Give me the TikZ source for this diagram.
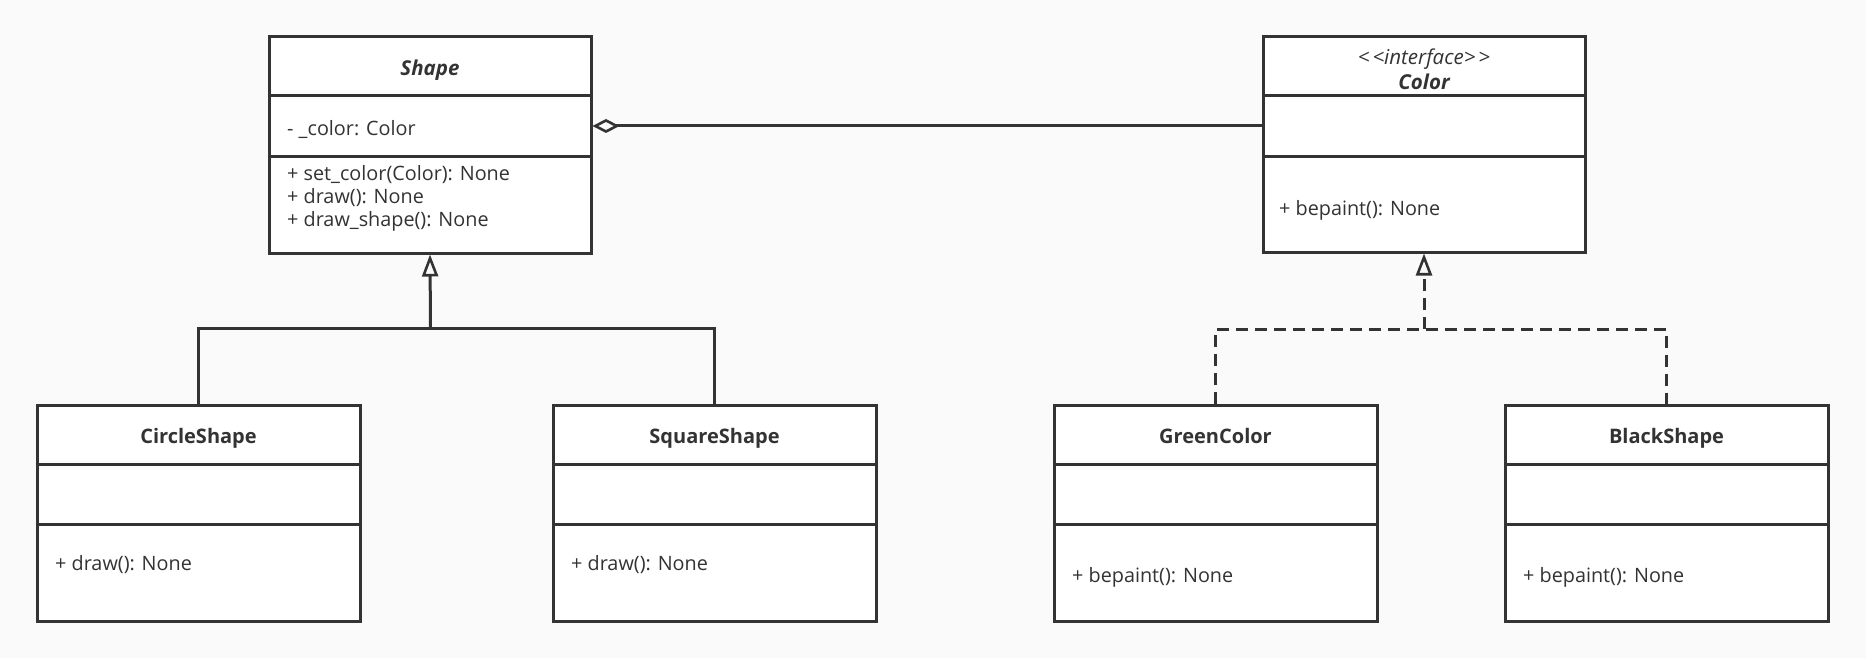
\documentclass[tikz,border=0pt]{standalone}
\usepackage{fontspec}
\setmainfont{Open Sans}
\usetikzlibrary{arrows.meta}
\definecolor{ln}{HTML}{333333}
\definecolor{bg}{HTML}{FAFAFA}
\begin{document}
\begin{tikzpicture}[x=1pt,y=-1pt,
  box/.style={draw=ln,line width=3pt,fill=white,rectangle,inner sep=0pt,minimum width=322pt,minimum height=216pt},
  ttl/.style={font=\fontsize{20}{24}\selectfont\bfseries,text=ln,anchor=base,inner sep=0pt},
  mem/.style={font=\fontsize{19.8}{23}\selectfont,text=ln,anchor=base west,inner sep=0pt},
  conn/.style={draw=ln,line width=3pt},
  dv/.style={draw=ln,line width=3pt}]
\fill[bg] (0,0) rectangle (1866,658);
\useasboundingbox (0,0) rectangle (1866,658);

% boxes
\node[box] (shape) at (430,145) {};
\node[box,minimum height=215pt] (color) at (1424,144.5) {};
\node[box,minimum width=323pt] (circle) at (198.5,513) {};
\node[box,minimum width=323pt] (square) at (714.5,513) {};
\node[box,minimum width=323pt] (green) at (1215.5,513) {};
\node[box,minimum width=323pt] (black) at (1666.5,513) {};

% dividers
\draw[dv] (shape.west |- 0,96) -- (shape.east |- 0,96);
\draw[dv] (shape.west |- 0,157) -- (shape.east |- 0,157);
\draw[dv] (color.west |- 0,96) -- (color.east |- 0,96);
\draw[dv] (color.west |- 0,157) -- (color.east |- 0,157);
\foreach \b in {circle,square,green,black}{
  \draw[dv] (\b.west |- 0,464) -- (\b.east |- 0,464);
  \draw[dv] (\b.west |- 0,524) -- (\b.east |- 0,524);
}

% titles
\node[ttl,font=\fontsize{20.5}{24}\selectfont\bfseries\itshape] (shapeT) at (430,75.8) {Shape};
\node[text=ln,align=center,inner sep=0pt,font=\fontsize{20.5}{25}\selectfont] (colorT) at (1424,69) {{\itshape <\kern3pt<interface>\kern3pt>}\\{\bfseries\itshape Color}};
\node[ttl] (circleT) at (198.5,443.5) {CircleShape};
\node[ttl] (squareT) at (714.5,443.5) {SquareShape};
\node[ttl] (greenT) at (1215.5,443.5) {GreenColor};
\node[ttl] (blackT) at (1666.5,443.5) {BlackShape};

% members
\node[mem] (sa) at (287,136) {- \_color: Color};
\node[mem] (sm1) at (287,180) {+ set\_color(Color): None};
\node[mem] (sm2) at (287,203) {+ draw(): None};
\node[mem] (sm3) at (287,226.5) {+ draw\_shape(): None};
\node[mem] (cm) at (1279,215) {+ bepaint(): None};
\node[mem] (cim) at (55,570) {+ draw(): None};
\node[mem] (sqm) at (571,570) {+ draw(): None};
\node[mem] (grm) at (1072,582) {+ bepaint(): None};
\node[mem] (blm) at (1523,582) {+ bepaint(): None};

% aggregation
\draw[conn,{Diamond[open,length=27pt,width=14pt,line width=2.6pt]}-] ([yshift=19pt]shape.east) -- ([yshift=18.5pt]color.west);

% inheritance
\coordinate (j1) at (430.5,328);
\draw[conn] (circle.north) |- (j1) -| (square.north);
\draw[conn,-{Triangle[open,length=22pt,width=16pt,line width=2.6pt]}] (j1) -- (shape.south);

% realization
\coordinate (j2) at (1424,329);
\draw[conn,dash pattern=on 12pt off 7pt] (green.north) |- (j2) -| (black.north);
\draw[conn,dash pattern=on 12pt off 7pt,-{Triangle[open,length=22pt,width=16pt,line width=2.6pt]}] (j2) -- (color.south);
\end{tikzpicture}
\end{document}
